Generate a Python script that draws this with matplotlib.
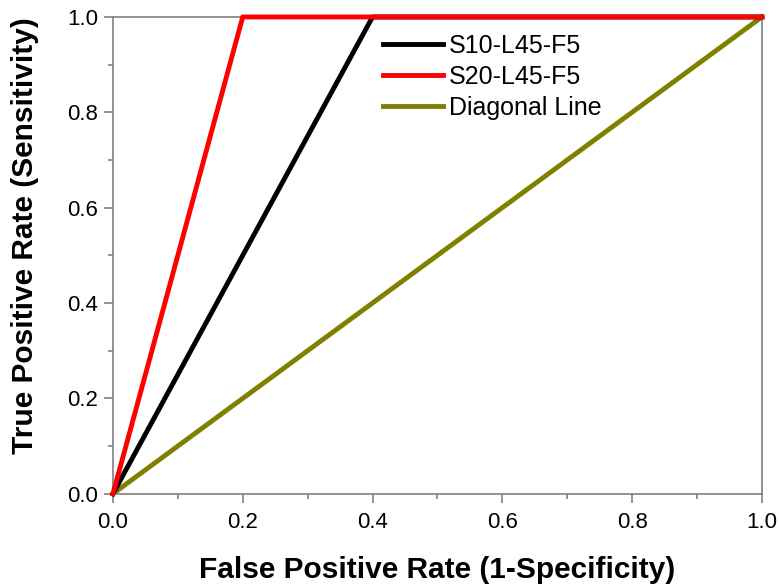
import matplotlib
matplotlib.use('Agg')
import matplotlib.pyplot as plt
from matplotlib.ticker import MultipleLocator

plt.rcParams['font.family'] = ['Liberation Sans', 'DejaVu Sans']

# ROC curves (FPR, TPR)
fpr_s10 = [0.0, 0.4, 1.0]
tpr_s10 = [0.0, 1.0, 1.0]
fpr_s20 = [0.0, 0.2, 1.0]
tpr_s20 = [0.0, 1.0, 1.0]
fpr_diag = [0.0, 1.0]
tpr_diag = [0.0, 1.0]

fig = plt.figure(figsize=(7.79, 5.85), dpi=100)
ax = fig.add_axes([0.145, 0.156, 0.833, 0.815])

ax.plot(fpr_s10, tpr_s10, color='black', lw=3.5, label='S10-L45-F5', clip_on=False, zorder=3)
ax.plot(fpr_s20, tpr_s20, color='red', lw=3.5, label='S20-L45-F5', clip_on=False, zorder=4)
ax.plot(fpr_diag, tpr_diag, color='#808000', lw=3.5, label='Diagonal Line', clip_on=False, zorder=2)

ax.set_xlim(0, 1)
ax.set_ylim(0, 1)
ax.xaxis.set_major_locator(MultipleLocator(0.2))
ax.xaxis.set_minor_locator(MultipleLocator(0.1))
ax.yaxis.set_major_locator(MultipleLocator(0.2))
ax.yaxis.set_minor_locator(MultipleLocator(0.1))
ax.xaxis.set_major_formatter(plt.FormatStrFormatter('%.1f'))
ax.yaxis.set_major_formatter(plt.FormatStrFormatter('%.1f'))

for s in ax.spines.values():
    s.set_color('#808080')
    s.set_linewidth(1.2)
ax.tick_params(which='both', direction='out', color='#808080', width=1.2)
ax.tick_params(which='major', length=6.5, labelsize=16)
ax.tick_params(which='minor', length=3.5)
ax.tick_params(axis='x', which='major', pad=7)
ax.tick_params(axis='y', which='major', pad=4)

ax.set_xlabel('False Positive Rate (1-Specificity)', fontsize=21.5, fontweight='bold', labelpad=16)
ax.set_ylabel('True Positive Rate (Sensitivity)', fontsize=21.5, fontweight='bold')
ax.yaxis.set_label_coords(-0.114, 0.541)

ax.legend(loc='upper left', bbox_to_anchor=(0.4, 0.985), frameon=False, fontsize=18,
          handlelength=2.4, handletextpad=0.25, labelspacing=0.28, borderaxespad=0)

plt.savefig('out.png', dpi=100)
